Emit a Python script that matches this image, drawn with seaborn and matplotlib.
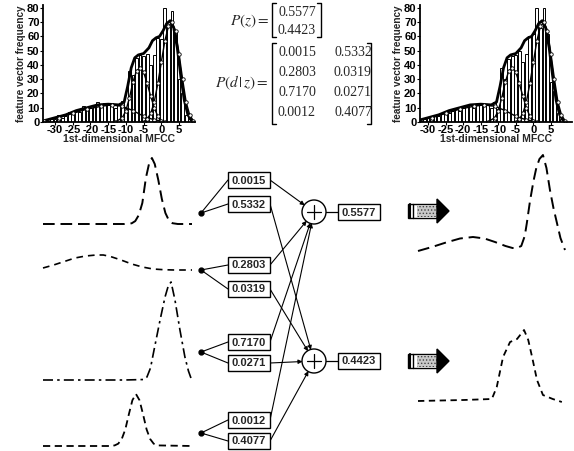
import numpy as np
import pandas as pd
import matplotlib
matplotlib.use('Agg')
import matplotlib.pyplot as plt
import seaborn as sns
from matplotlib.patches import Rectangle, Circle, Polygon, FancyArrowPatch

sns.set_theme(style='white')
plt.rcParams['font.family'] = ['Liberation Sans', 'DejaVu Sans']
plt.rcParams['axes.unicode_minus'] = False
plt.rcParams['mathtext.fontset'] = 'stix'
plt.rcParams['hatch.linewidth'] = 0.6

# ---------------- data ----------------
p_z = [0.5577, 0.4423]
p_d_given_z = [[0.0015, 0.5332],
               [0.2803, 0.0319],
               [0.7170, 0.0271],
               [0.0012, 0.4077]]

bin_centers = list(range(-33, 9))
hist_before = [1, 1, 2, 2, 5, 3, 4, 7, 6, 8, 7, 11, 9, 10, 12, 14, 11, 13, 12, 13,
               10, 12, 15, 10, 36, 33, 45, 47, 46, 48, 40, 47, 59, 58, 80, 68, 78, 63, 30, 20,
               5, 2]
hist_after = [1, 1, 2, 3, 2, 5, 4, 6, 7, 6, 8, 9, 8, 10, 11, 12, 10, 12, 13, 11,
              12, 10, 14, 9, 38, 30, 44, 46, 47, 50, 42, 48, 60, 62, 80, 66, 80, 62, 28, 22,
              6, 2]
xticks = [-30, -25, -20, -15, -10, -5, 0, 5]

mix_x = [-33, -30, -27, -24, -21, -18, -15, -12, -10.5, -9.5, -8.5, -7.5, -6.5, -5, -3.5,
         -2.5, -1.5, -0.5, 0.5, 1.5, 2.5, 3.5, 4.5, 5.5, 6.5, 7.5, 8.5]
mix_y = [1, 3, 5, 8, 10, 12, 12.5, 12, 14, 25, 38, 45, 47, 48, 52, 57, 59, 60, 64, 69, 71,
         66, 52, 32, 15, 5, 1]
comp1_x = [-33, -29, -25, -21, -17, -14, -11, -8, -5, -2, 1]
comp1_y = [1, 3, 6, 9, 11, 12, 11, 8, 4, 1.5, 0.3]
comp2_x = [-13, -11, -10, -9, -8, -7, -6, -5, -4, -3, -2, -1, 0]
comp2_y = [0, 3, 8, 17, 28, 36, 38, 35, 27, 18, 10, 4, 1]
comp3_x = [-5, -4, -3, -2, -1, 0, 1, 2, 3, 4, 5, 6, 7, 8, 9]
comp3_y = [0, 2, 6, 14, 27, 42, 57, 67, 70, 64, 48, 30, 14, 5, 1]

# component curves (height above baseline) over the MFCC axis
g1_x = [-33, -20, -10, -8, -7, -6, -5, -4, -3, -2.3, -1.5, -0.5, 0.5, 1.5, 2.5, 3.5, 5, 9]
g1_y = [0, 0, 0, 0.7, 2.9, 8.9, 21, 46, 62, 66, 60, 44, 25, 11, 3.5, 0.8, 0, 0]
g2_x = [-33, -30, -27, -24, -21, -18, -16, -14, -11, -8, -5, -2, 1, 4, 9]
g2_y = [2, 5, 8.5, 12, 14, 15, 15, 13.5, 10, 6, 3, 1, 0.3, 0, 0]
g3_x = [-33, -10, -4.5, -3.7, -2.7, -1.7, 0, 1.4, 2.3, 3.1, 4.2, 5.6, 7.0, 8.0, 8.7]
g3_y = [0, 0, 0.5, 3, 12, 30, 60, 83, 94, 98, 80, 50, 23, 9, 2]
g4_x = [-33, -14, -12.8, -11.8, -10.8, -9.8, -8.8, -7.8, -6.8, -5.8, -4.8, -3.8, -2.8,
        -1.8, -0.8, 9]
g4_y = [0, 0, 0.6, 2.3, 7, 16.6, 31.7, 45.8, 52, 45.8, 31.7, 16.6, 7, 2.3, 0.6, 0]

z1_x = [-33, -29, -25, -21, -17.3, -14, -11, -8, -6, -4.7, -3.5, -2.5, -1.9, -1, 0, 0.8,
        1.7, 2.7, 3.7, 4.7, 5.7, 6.7, 7.7, 9]
z1_y = [5, 9, 13.5, 17.5, 19, 17.5, 14, 10, 8, 8, 10, 20, 33, 55, 75, 88, 97, 101, 88, 66,
        48, 33, 18, 6]
z2_x = [-33, -20, -11.9, -10.5, -8.7, -6.7, -4.7, -2.7, -1.5, -0.4, 1, 2.7, 5.5, 8.1]
z2_y = [1, 2, 3, 15, 45, 60, 63, 72, 62, 45, 22, 7, 3, 0]

# ---------------- figure ----------------
W, H = 574, 451
fig = plt.figure(figsize=(W / 100, H / 100), dpi=100)


def px_axes(x0, y0, x1, y1):
    return fig.add_axes([x0 / W, 1 - y1 / H, (x1 - x0) / W, (y1 - y0) / H])


canvas = fig.add_axes([0, 0, 1, 1])
canvas.set_xlim(0, W)
canvas.set_ylim(H, 0)
canvas.axis('off')


def draw_hist(rect, heights, xlim):
    ax = px_axes(*rect)
    df = pd.DataFrame({'x': bin_centers, 'w': heights})
    sns.histplot(data=df, x='x', weights='w', binwidth=1, binrange=(-33.5, 8.5), shrink=0.8,
                 color='white', edgecolor='black', linewidth=0.7, alpha=1, ax=ax)
    ax.plot(mix_x, mix_y, color='black', lw=2.0)
    for cx, cy in [(comp1_x, comp1_y), (comp2_x, comp2_y), (comp3_x, comp3_y)]:
        ax.plot(cx, cy, color='black', lw=1.0, marker='o', ms=2.5, mfc='white', mew=0.6)
    ax.set_xlim(*xlim)
    ax.set_ylim(0, 82)
    ax.set_xticks(xticks)
    ax.set_xticklabels([str(t) for t in xticks], fontsize=8, fontweight='bold')
    ax.set_yticks(range(0, 81, 10))
    ax.set_yticklabels([str(t) for t in range(0, 81, 10)], fontsize=8, fontweight='bold')
    for s in ['top', 'right']:
        ax.spines[s].set_visible(False)
    for s in ['left', 'bottom']:
        ax.spines[s].set_color('black')
        ax.spines[s].set_linewidth(1.3)
    ax.tick_params(length=2, pad=0.5, width=0.8, colors='black', left=True, bottom=True)
    ax.set_xlabel('1st-dimensional MFCC', fontsize=7.5, fontweight='bold', labelpad=-1)
    ax.set_ylabel('feature vector frequency', fontsize=7.2, fontweight='bold', labelpad=1)
    ax.set_facecolor('none')


draw_hist((43, 5, 195, 122), hist_before, (-33.4, 9.5))
draw_hist((420, 5, 572, 122), hist_after, (-32.3, 11.0))


def curve_axes(xspan, baseline, x, y, dashes, lw=1.4):
    ax = px_axes(xspan[0], baseline - 110, xspan[1], baseline)
    ax.plot(x, y, color='black', lw=lw, dashes=dashes, dash_capstyle='butt', clip_on=False)
    ax.set_xlim(-33, 9)
    ax.set_ylim(0, 110)
    ax.axis('off')


curve_axes((43, 192), 224, g1_x, g1_y, (6, 3))
curve_axes((43, 192), 270, g2_x, g2_y, (4, 3), lw=1.2)
curve_axes((43, 192), 380, g3_x, g3_y, (6, 2.5, 1.5, 2.5), lw=1.2)
curve_axes((43, 192), 446, g4_x, g4_y, (4, 2.5), lw=1.3)
curve_axes((418, 565), 256, z1_x, z1_y, (6, 3), lw=1.4)
curve_axes((418, 565), 402, z2_x, z2_y, (3.5, 2.5), lw=1.3)

# ---- matrices ----
def bracket(x0, x1, y0, y1):
    canvas.plot([x0 + 4, x0, x0, x0 + 4], [y0, y0, y1, y1], color='black', lw=1)
    canvas.plot([x1 - 4, x1, x1, x1 - 4], [y0, y0, y1, y1], color='black', lw=1)


canvas.text(269, 21, r'$P(z)=$', ha='right', va='center', fontsize=11)
for v, yy in zip(p_z, [12, 30]):
    canvas.text(297, yy, f'{v:.4f}', ha='center', va='center', fontsize=10,
                family='Liberation Serif')
bracket(272, 321, 3, 37)
canvas.text(269, 83, r'$P(d\,|\,z)=$', ha='right', va='center', fontsize=11)
for r, yy in enumerate([52, 72, 92, 113]):
    for c, xx in enumerate([297, 353]):
        canvas.text(xx, yy, f'{p_d_given_z[r][c]:.4f}', ha='center', va='center',
                    fontsize=10, family='Liberation Serif')
bracket(272, 371, 43, 124)

# ---- network ----
dots_y = [213, 270, 352, 433]
box_y = [180, 204, 265, 289, 342, 363, 420, 441]
bx0, bw, bh = 228, 42, 16
circ_c = [(314, 212), (314, 361)]
circles = []
for (cx, cy) in circ_c:
    c = Circle((cx, cy), 12, fc='white', ec='black', lw=1, zorder=3)
    canvas.add_patch(c)
    circles.append(c)
    canvas.plot([cx - 7, cx + 7], [cy, cy], color='black', lw=0.9, zorder=4)
    canvas.plot([cx, cx], [cy - 7, cy + 7], color='black', lw=0.9, zorder=4)

for i, dy in enumerate(dots_y):
    canvas.plot([201], [dy], 'o', color='black', ms=3.5, zorder=4)
    for k in range(2):
        canvas.plot([201, bx0], [dy, box_y[2 * i + k]], color='black', lw=0.8)

for i in range(4):
    for k in range(2):
        yc = box_y[2 * i + k]
        canvas.add_patch(Rectangle((bx0, yc - bh / 2), bw, bh, fc='white', ec='black',
                                   lw=1, zorder=3))
        canvas.text(bx0 + bw / 2, yc + 0.5, f'{p_d_given_z[i][k]:.4f}', ha='center',
                    va='center', fontsize=8, fontweight='bold', zorder=4)
        tgt = circ_c[k]
        arr = FancyArrowPatch((bx0 + bw, yc), tgt, arrowstyle='-|>', mutation_scale=6,
                              lw=0.8, color='black', patchB=circles[k], shrinkA=0,
                              shrinkB=0, zorder=2)
        canvas.add_patch(arr)

for k, (cx, cy) in enumerate(circ_c):
    canvas.plot([cx + 12, 338], [cy, cy], color='black', lw=0.9)
    canvas.add_patch(Rectangle((338, cy - 8), 42, 16, fc='white', ec='black', lw=1, zorder=3))
    canvas.text(359, cy + 0.5, f'{p_z[k]:.4f}', ha='center', va='center', fontsize=8,
                fontweight='bold', zorder=4)


def block_arrow(yc):
    x0, x1, xh = 408, 437, 449
    canvas.add_patch(Rectangle((x0, yc - 7), x1 - x0, 14, fc='white', ec='black', lw=1))
    canvas.plot([409.5, 409.5], [yc - 7, yc + 7], color='black', lw=1.5)
    canvas.plot([413, 413], [yc - 7, yc + 7], color='black', lw=1.0)
    canvas.add_patch(Rectangle((417, yc - 6), x1 - 417, 12, fc='#c8c8c8', ec='#444444',
                               lw=0, hatch='.....'))
    canvas.add_patch(Polygon([[x1, yc - 12], [xh, yc], [x1, yc + 12]], closed=True,
                             fc='black', ec='black'))


block_arrow(211)
block_arrow(361)

fig.savefig('out.png', dpi=100)
